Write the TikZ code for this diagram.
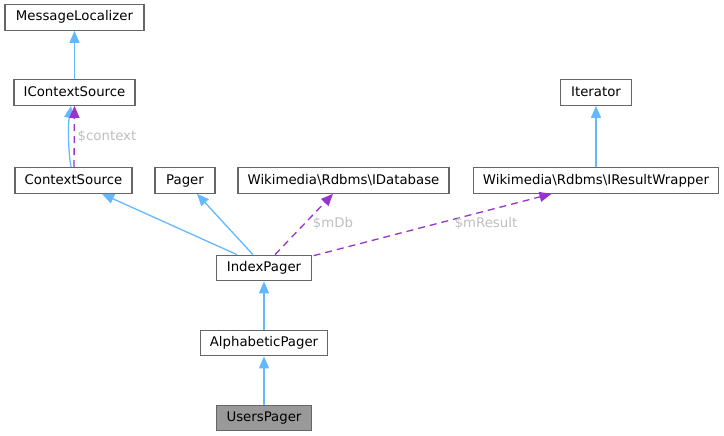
\documentclass[tikz,border=0pt]{standalone}
\usepackage{fontspec}
\setmainfont{DejaVu Sans}
\usetikzlibrary{arrows.meta}
\definecolor{edgeblue}{HTML}{63B8FF}
\definecolor{edgepurple}{HTML}{9A32CD}
\definecolor{lblgray}{HTML}{BEBEBE}
\definecolor{boxgray}{HTML}{666666}
\definecolor{hlgray}{HTML}{999999}
\begin{document}
\begin{tikzpicture}[x=1pt,y=-1pt,
  cls/.style={draw=boxgray, line width=1.2pt, fill=white, inner sep=0pt,
    font=\fontsize{13.3}{15}\selectfont, minimum height=25.5pt, text height=9.5pt, text depth=2.5pt},
  inh/.style={draw=edgeblue, line width=1.3pt, -{Triangle[length=12pt,width=10pt]}},
  use/.style={draw=edgepurple, line width=1.3pt, dash pattern=on 7pt off 5pt, -{Triangle[length=12pt,width=10pt]}},
  lbl/.style={text=lblgray, font=\fontsize{13.3}{15}\selectfont, inner sep=0pt}]
\useasboundingbox (0,0) rectangle (724,436);
\node[cls, minimum width=139pt] (ml) at (74.5,17.5) {MessageLocalizer};
\node[cls, minimum width=121pt] (ics) at (74.5,92.5) {IContextSource};
\node[cls, minimum width=117pt] (cs) at (73.5,180.5) {ContextSource};
\node[cls, minimum width=60pt] (pg) at (185,180.5) {Pager};
\node[cls, minimum width=211pt] (db) at (343.5,180.5) {Wikimedia\textbackslash Rdbms\textbackslash IDatabase};
\node[cls, minimum width=245.5pt] (rw) at (596,180.5) {Wikimedia\textbackslash Rdbms\textbackslash IResultWrapper};
\node[cls, minimum width=71pt] (it) at (596,92.5) {Iterator};
\node[cls, minimum width=95pt] (idx) at (264,268) {IndexPager};
\node[cls, minimum width=127pt] (ap) at (264,343) {AlphabeticPager};
\node[cls, minimum width=95pt, fill=hlgray] (up) at (264,418) {UsersPager};

\draw[inh] (ics.north) -- (ml.south);
\draw[inh] ([xshift=-2.5pt]cs.north) .. controls (68,150) and (68,125) .. ([xshift=-3.5pt]ics.south);
\draw[use] ([xshift=0.5pt]cs.north) -- ([xshift=0pt]ics.south);
\node[lbl] (lc) at (107,136) {\$context};
\draw[inh] (rw.north) -- (it.south);
\draw[inh] ([xshift=-27pt]idx.north) -- ([xshift=28.5pt]cs.south);
\draw[inh] ([xshift=-11pt]idx.north) -- ([xshift=12pt]pg.south);
\draw[use] ([xshift=11pt]idx.north) -- ([xshift=-10.5pt]db.south);
\node[lbl] (lmdb) at (333,223) {\$mDb};
\draw[use] ([xshift=1.5pt,yshift=-1pt]idx.north east) -- ([xshift=-44.5pt]rw.south);
\node[lbl] (lmr) at (486,223) {\$mResult};
\draw[inh] (ap.north) -- (idx.south);
\draw[inh] (up.north) -- (ap.south);
\end{tikzpicture}
\end{document}
